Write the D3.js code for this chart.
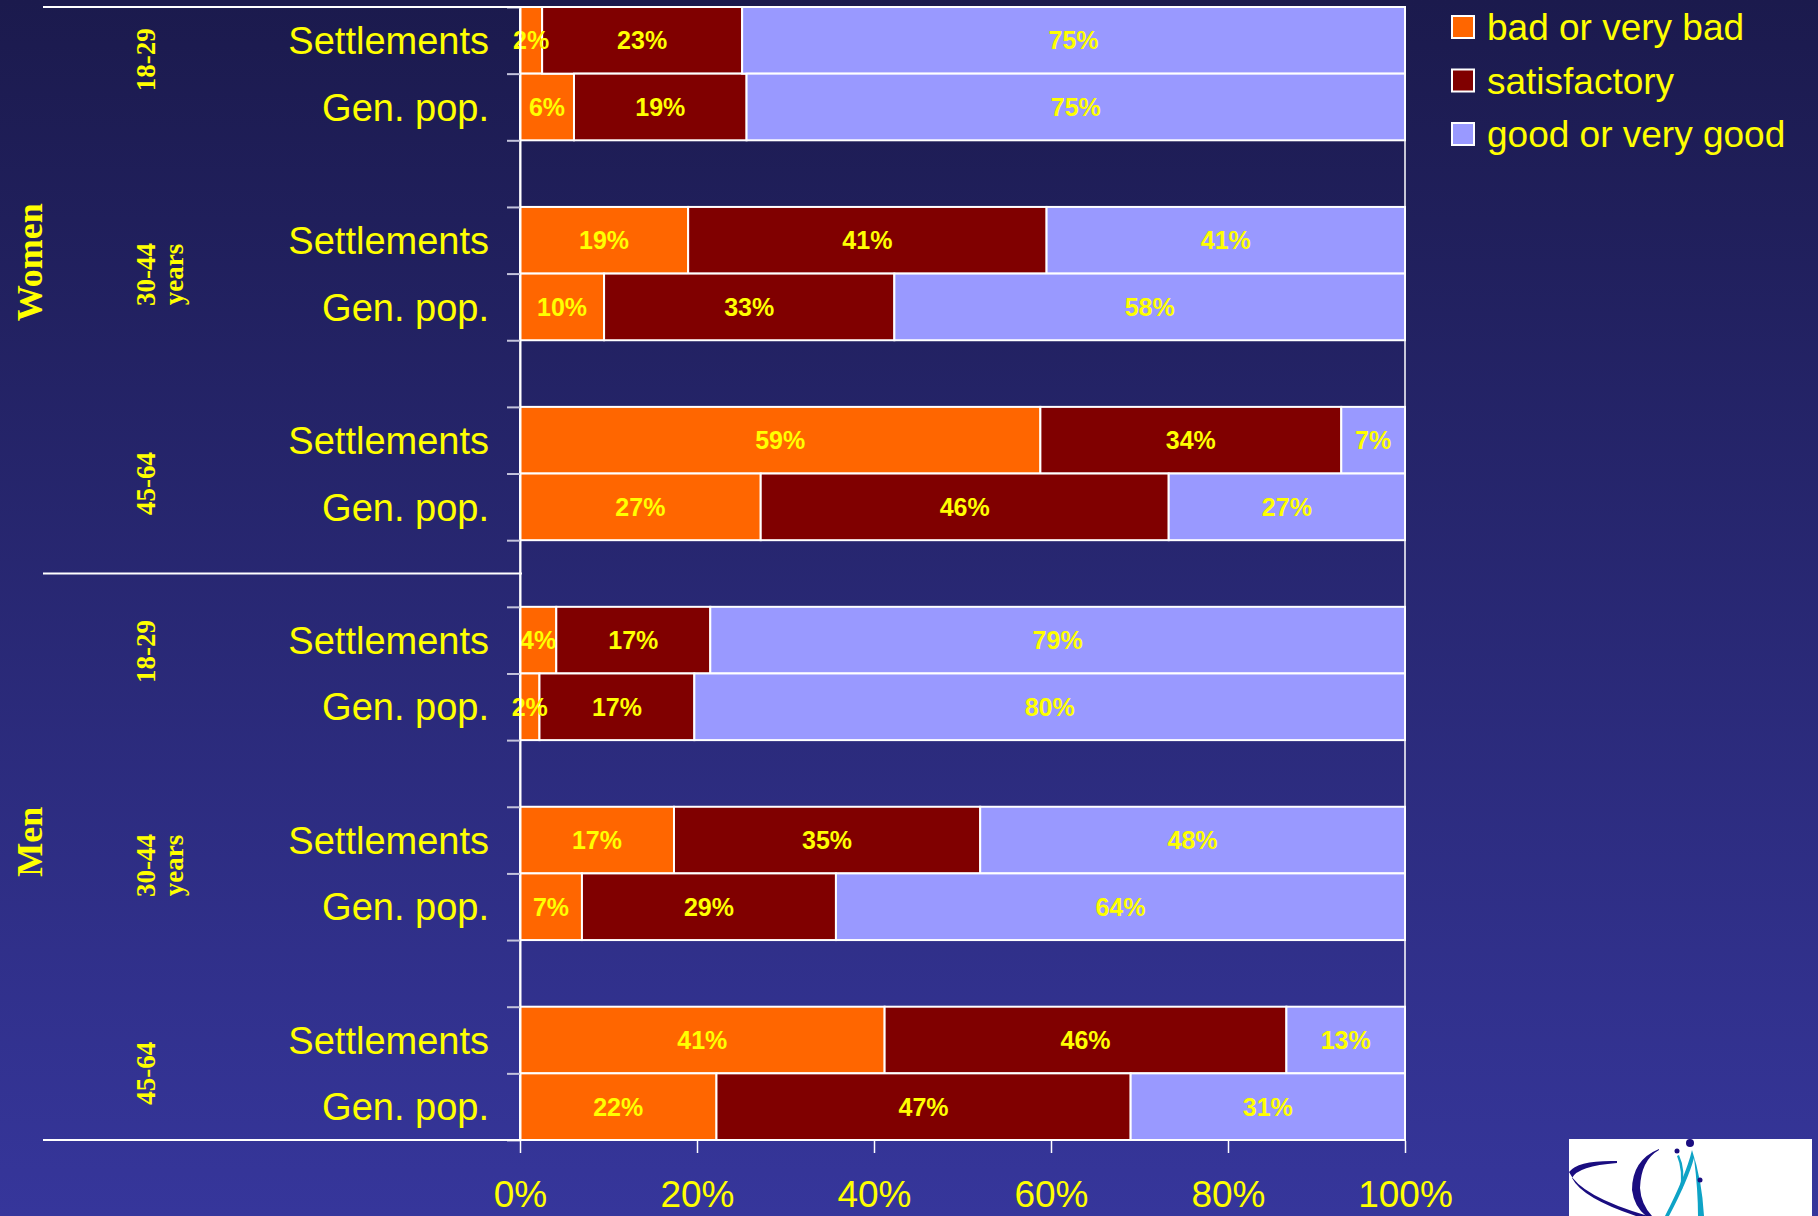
<!DOCTYPE html>
<html><head><meta charset="utf-8">
<script src="https://cdn.jsdelivr.net/npm/d3@7"></script>
<style>
html,body{margin:0;padding:0;background:#28287a;overflow:hidden}
svg{display:block}
</style></head>
<body>
<svg id="chart" width="1818" height="1216"></svg>
<script>
// ---- data ----
const genders = ["Women", "Men"];
const ageGroups = ["18-29", "30-44", "45-64", "18-29", "30-44", "45-64"];
const ageSuffix = ["", "years", "", "", "years", ""];
const categories = ["Settlements", "Gen. pop.", "Settlements", "Gen. pop.", "Settlements", "Gen. pop.",
                    "Settlements", "Gen. pop.", "Settlements", "Gen. pop.", "Settlements", "Gen. pop."];
const seriesNames = ["bad or very bad", "satisfactory", "good or very good"];
// bar shares
const badValues = [2.5, 6.1, 19.0, 9.5, 58.8, 27.2, 4.1, 2.2, 17.4, 7.0, 41.2, 22.2];
const satisfactoryValues = [22.6, 19.5, 40.5, 32.8, 34.0, 46.1, 17.4, 17.5, 34.6, 28.7, 45.4, 46.8];
const goodValues = [74.9, 74.4, 40.5, 57.7, 7.2, 26.7, 78.5, 80.3, 48.0, 64.3, 13.4, 31.0];
// printed labels (as shown on the bars)
const badLabels = [2, 6, 19, 10, 59, 27, 4, 2, 17, 7, 41, 22];
const satisfactoryLabels = [23, 19, 41, 33, 34, 46, 17, 17, 35, 29, 46, 47];
const goodLabels = [75, 75, 41, 58, 7, 27, 79, 80, 48, 64, 13, 31];
const xTicks = [0, 0.2, 0.4, 0.6, 0.8, 1];
const colors = ["#FF6600", "#800000", "#9999FF"];

// ---- layout tweaks (label nudges, px) ----
const ageLabelShift = [-14, 1, 10, -22, -8, 0];
const genderLabelShift = [-28, -15];

// ---- build rows ----
const labelArrays = [badLabels, satisfactoryLabels, goodLabels];
const rows = categories.map((c, i) => ({
  slot: Math.floor(i / 2) * 3 + (i % 2),
  idx: i,
  cat: c,
  [seriesNames[0]]: badValues[i],
  [seriesNames[1]]: satisfactoryValues[i],
  [seriesNames[2]]: goodValues[i]
}));
const nSlots = ageGroups.length * 3 - 1;

const svg = d3.select("#chart");
const W = 1818, H = 1216;
const plot = {left: 520, right: 1405, top: 7, bottom: 1140};

// background gradient
const defs = svg.append("defs");
const grad = defs.append("linearGradient").attr("id", "bg").attr("x1", 0).attr("y1", 0).attr("x2", 0).attr("y2", 1);
grad.append("stop").attr("offset", "0%").attr("stop-color", "#1b1a4d");
grad.append("stop").attr("offset", "100%").attr("stop-color", "#36369b");
svg.append("rect").attr("width", W).attr("height", H).attr("fill", "url(#bg)");

const x = d3.scaleLinear().domain([0, 1]).range([plot.left, plot.right]);
const y = d3.scaleBand().domain(d3.range(nSlots)).range([plot.top, plot.bottom]).padding(0);
const yLin = d3.scaleLinear().domain([0, nSlots]).range([plot.top, plot.bottom]);

const stack = d3.stack().keys(seriesNames).offset(d3.stackOffsetExpand);
const stacked = stack(rows);

const font = "'Liberation Sans', Arial, Helvetica, sans-serif";
const serif = "'Liberation Serif', 'Times New Roman', serif";
const yellow = "#FFFF00";

// plot border
svg.append("rect").attr("x", plot.left).attr("y", plot.top)
  .attr("width", plot.right - plot.left).attr("height", plot.bottom - plot.top)
  .attr("fill", "none").attr("stroke", "#ffffff").attr("stroke-width", 1.5);

// bars
const layers = svg.append("g").selectAll("g").data(stacked).join("g")
  .attr("fill", (d, i) => colors[i]);
layers.selectAll("rect").data(d => d).join("rect")
  .attr("x", d => x(d[0]))
  .attr("y", d => y(d.data.slot))
  .attr("width", d => x(d[1]) - x(d[0]))
  .attr("height", y.bandwidth())
  .attr("stroke", "#ffffff").attr("stroke-width", 2);

// value labels
const lab = svg.append("g");
stacked.forEach((layer, li) => {
  lab.selectAll(null).data(layer).join("text")
    .attr("x", d => (x(d[0]) + x(d[1])) / 2)
    .attr("y", d => y(d.data.slot) + y.bandwidth() / 2)
    .attr("dy", "0.36em")
    .attr("text-anchor", "middle")
    .attr("font-family", font).attr("font-weight", "bold").attr("font-size", 25)
    .attr("fill", yellow)
    .text(d => labelArrays[li][d.data.idx] + "%");
});

// y axis (ticks at every band boundary)
const yAxis = svg.append("g").attr("transform", `translate(${plot.left},0)`)
  .call(d3.axisLeft(yLin).tickValues(d3.range(nSlots + 1)).tickFormat("").tickSize(13).tickSizeOuter(0));
yAxis.select(".domain").attr("stroke", "#ffffff").attr("stroke-width", 2);
yAxis.selectAll(".tick line").attr("stroke", "#c4c4dc").attr("stroke-width", 2);

// category labels
svg.append("g").selectAll("text").data(rows).join("text")
  .attr("x", 489)
  .attr("y", d => y(d.slot) + y.bandwidth() / 2)
  .attr("dy", "0.36em")
  .attr("text-anchor", "end")
  .attr("font-family", font).attr("font-size", 38)
  .attr("fill", yellow)
  .text(d => d.cat);

// x axis
const xAxis = svg.append("g").attr("transform", `translate(0,${plot.bottom + 1})`)
  .call(d3.axisBottom(x).tickValues(xTicks).tickFormat(d3.format(".0%")).tickSize(12).tickSizeOuter(0));
xAxis.select(".domain").remove();
xAxis.selectAll(".tick line").attr("stroke", "#ffffff").attr("stroke-width", 1.5);
xAxis.selectAll(".tick text")
  .attr("y", 66).attr("dy", 0)
  .attr("font-family", font).attr("font-size", 37)
  .attr("fill", yellow);

// group separators (gender sections)
const sectionEdges = [plot.top, (y(8) + y(8) + y.bandwidth()) / 2, plot.bottom];
svg.append("g").selectAll("line").data(sectionEdges).join("line")
  .attr("x1", 43).attr("x2", plot.left + 2)
  .attr("y1", d => d).attr("y2", d => d)
  .attr("stroke", "#ffffff").attr("stroke-width", 2);

// gender labels
genders.forEach((g, i) => {
  const cy = (sectionEdges[i] + sectionEdges[i + 1]) / 2 + genderLabelShift[i];
  svg.append("text")
    .attr("transform", `translate(42,${cy}) rotate(-90)`)
    .attr("text-anchor", "middle")
    .attr("font-family", serif).attr("font-weight", "bold").attr("font-size", 36)
    .attr("fill", yellow)
    .text(g);
});

// age labels
ageGroups.forEach((a, gi) => {
  const cy = (y(gi * 3) + y(gi * 3 + 1) + y.bandwidth()) / 2 + ageLabelShift[gi];
  svg.append("text")
    .attr("transform", `translate(155,${cy}) rotate(-90)`)
    .attr("text-anchor", "middle")
    .attr("font-family", serif).attr("font-weight", "bold").attr("font-size", 27)
    .attr("fill", yellow)
    .text(a);
  if (ageSuffix[gi]) {
    svg.append("text")
      .attr("transform", `translate(183,${cy}) rotate(-90)`)
      .attr("text-anchor", "middle")
      .attr("font-family", serif).attr("font-weight", "bold").attr("font-size", 27)
      .attr("fill", yellow)
      .text(ageSuffix[gi]);
  }
});

// legend
const legend = svg.append("g").attr("transform", "translate(1452,16)");
seriesNames.forEach((s, i) => {
  const g = legend.append("g").attr("transform", `translate(0,${i * 53.5})`);
  g.append("rect").attr("width", 22).attr("height", 22)
    .attr("fill", colors[i]).attr("stroke", "#ffffff").attr("stroke-width", 2);
  g.append("text").attr("x", 35).attr("y", 11).attr("dy", "0.36em")
    .attr("font-family", font).attr("font-size", 37).attr("fill", yellow)
    .text(s);
});

// logo (decorative)
const logo = svg.append("g");
logo.append("rect").attr("x", 1569).attr("y", 1139).attr("width", 243).attr("height", 80).attr("fill", "#ffffff");
logo.append("path").attr("fill", "#1a0d80")
  .attr("d", "M1617,1161 Q1578,1160 1569,1172 Q1580,1196 1648,1216 L1636,1216 Q1582,1198 1572,1178 Q1578,1166 1617,1163 Z");
logo.append("path").attr("fill", "#1a0d80")
  .attr("d", "M1659,1149 Q1632,1160 1632,1190 Q1634,1206 1646,1216 L1652,1216 Q1641,1204 1640,1188 Q1641,1160 1659,1150 Z");
logo.append("path").attr("fill", "#0ea3c6")
  .attr("d", "M1692,1150 Q1686,1175 1665,1216 L1669,1216 Q1688,1180 1694,1158 Q1698,1190 1698,1216 L1704,1216 Q1702,1180 1692,1150 Z");
logo.append("path").attr("fill", "#0ea3c6")
  .attr("d", "M1677,1156 Q1683,1170 1680,1190 L1682,1190 Q1686,1170 1679,1155 Z");
logo.append("circle").attr("cx", 1690).attr("cy", 1143).attr("r", 4).attr("fill", "#1a0d80");
logo.append("circle").attr("cx", 1677).attr("cy", 1151).attr("r", 2.5).attr("fill", "#1a0d80");
logo.append("circle").attr("cx", 1700).attr("cy", 1180).attr("r", 2.5).attr("fill", "#1a0d80");
</script>
</body></html>
